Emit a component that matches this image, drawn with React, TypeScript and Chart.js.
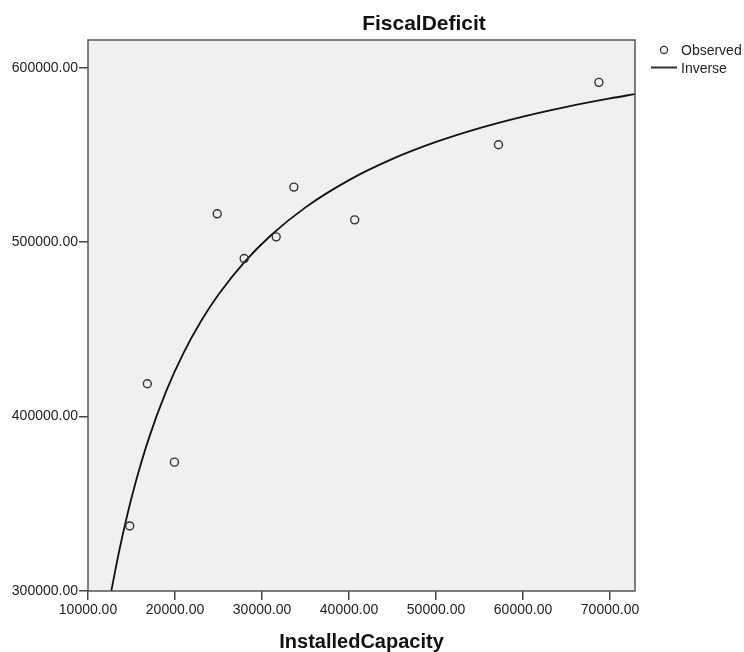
import React, { useEffect, useRef } from "react";
import { Chart, registerables } from "chart.js";

Chart.register(...registerables);

const chartTitle = "FiscalDeficit";
const xTitle = "InstalledCapacity";
const legendLabels = ["Observed", "Inverse"];

const observedX = [14790, 16820, 19930, 24850, 27950, 31630, 33660, 40650, 57180, 68720];
const observedY = [337300, 418830, 373880, 516250, 490590, 503040, 531570, 512800, 555860, 591620];

const curveX = [12680, 13500, 14500, 15500, 17000, 19000, 21000, 23000, 25000, 28000, 31000, 35000, 40000, 45000, 50000, 55000, 60000, 65000, 70000, 72870];
const curveY = [300000, 320924, 343269, 362730, 387629, 414712, 436636, 454747, 469961, 488706, 503823, 519948, 535569, 547719, 557439, 565392, 572019, 577626, 582433, 584894];

const xTicks = [10000, 20000, 30000, 40000, 50000, 60000, 70000];
const yTicks = [300000, 400000, 500000, 600000];
const xMin = 10000;
const xMax = 72870;
const yMin = 300000;
const yMax = 615900;

const FONT = "'Liberation Sans', Arial, sans-serif";

export default function App() {
  const ref = useRef<HTMLCanvasElement | null>(null);

  useEffect(() => {
    document.body.style.margin = "0";
    const canvas = ref.current;
    if (!canvas) return;

    const decor = {
      id: "decor",
      beforeDatasetsDraw(chart: any) {
        const { ctx, chartArea: a } = chart;
        ctx.save();
        ctx.fillStyle = "#f0f0f0";
        ctx.fillRect(a.left, a.top, a.right - a.left, a.bottom - a.top);
        ctx.restore();
      },
      afterDraw(chart: any) {
        const { ctx, chartArea: a } = chart;
        ctx.save();
        ctx.strokeStyle = "#555555";
        ctx.lineWidth = 1.5;
        ctx.strokeRect(a.left, a.top, a.right - a.left, a.bottom - a.top);

        ctx.fillStyle = "#111";
        ctx.font = `bold 21px ${FONT}`;
        ctx.textAlign = "center";
        ctx.textBaseline = "alphabetic";
        ctx.fillText(chartTitle, 424, 30);

        ctx.font = `bold 20px ${FONT}`;
        ctx.fillText(xTitle, (a.left + a.right) / 2, 648);

        // legend
        ctx.strokeStyle = "#333";
        ctx.lineWidth = 1.3;
        ctx.beginPath();
        ctx.arc(664, 50, 3.6, 0, Math.PI * 2);
        ctx.stroke();
        ctx.lineWidth = 2;
        ctx.beginPath();
        ctx.moveTo(651, 67.5);
        ctx.lineTo(677, 67.5);
        ctx.stroke();
        ctx.fillStyle = "#222";
        ctx.font = `14px ${FONT}`;
        ctx.textAlign = "left";
        ctx.textBaseline = "middle";
        ctx.fillText(legendLabels[0], 681, 51.5);
        ctx.fillText(legendLabels[1], 681, 69);
        ctx.restore();
      },
    };

    const chart = new Chart(canvas, {
      type: "scatter",
      data: {
        datasets: [
          {
            label: legendLabels[0],
            data: observedX.map((x, i) => ({ x, y: observedY[i] })),
            showLine: false,
            pointRadius: 4,
            pointBorderWidth: 1.4,
            pointBorderColor: "#333",
            pointBackgroundColor: "rgba(0,0,0,0)",
            order: 1,
          },
          {
            label: legendLabels[1],
            data: curveX.map((x, i) => ({ x, y: curveY[i] })),
            showLine: true,
            pointRadius: 0,
            borderColor: "#111",
            borderWidth: 1.8,
            cubicInterpolationMode: "monotone",
            fill: false,
            order: 2,
            clip: 0,
          } as any,
        ],
      },
      options: {
        responsive: false,
        animation: false,
        layout: { padding: { top: 40, right: 109, left: 0, bottom: 0 } },
        plugins: {
          legend: { display: false },
          tooltip: { enabled: false },
          title: { display: false },
        },
        scales: {
          x: {
            type: "linear",
            min: xMin,
            max: xMax,
            afterFit: (s: any) => {
              s.height = 61;
            },
            afterBuildTicks: (s: any) => {
              s.ticks = xTicks.map((v) => ({ value: v }));
            },
            border: { display: false },
            grid: {
              display: true,
              drawOnChartArea: false,
              drawTicks: true,
              tickLength: 9,
              color: "#444",
              lineWidth: 1.5,
            },
            ticks: {
              padding: 2,
              color: "#222",
              font: { family: FONT, size: 14 },
              maxRotation: 0,
              autoSkip: false,
              callback: (v: any) => Number(v).toFixed(2),
            },
          },
          y: {
            type: "linear",
            min: yMin,
            max: yMax,
            afterFit: (s: any) => {
              s.width = 88;
            },
            afterBuildTicks: (s: any) => {
              s.ticks = yTicks.map((v) => ({ value: v }));
            },
            border: { display: false },
            grid: {
              display: true,
              drawOnChartArea: false,
              drawTicks: true,
              tickLength: 9,
              color: "#444",
              lineWidth: 1.5,
            },
            ticks: {
              padding: 1,
              color: "#222",
              font: { family: FONT, size: 14 },
              autoSkip: false,
              callback: (v: any) => Number(v).toFixed(2),
            },
          },
        },
      },
      plugins: [decor],
    });

    return () => chart.destroy();
  }, []);

  return <canvas ref={ref} width={744} height={652} style={{ display: "block" }} />;
}
